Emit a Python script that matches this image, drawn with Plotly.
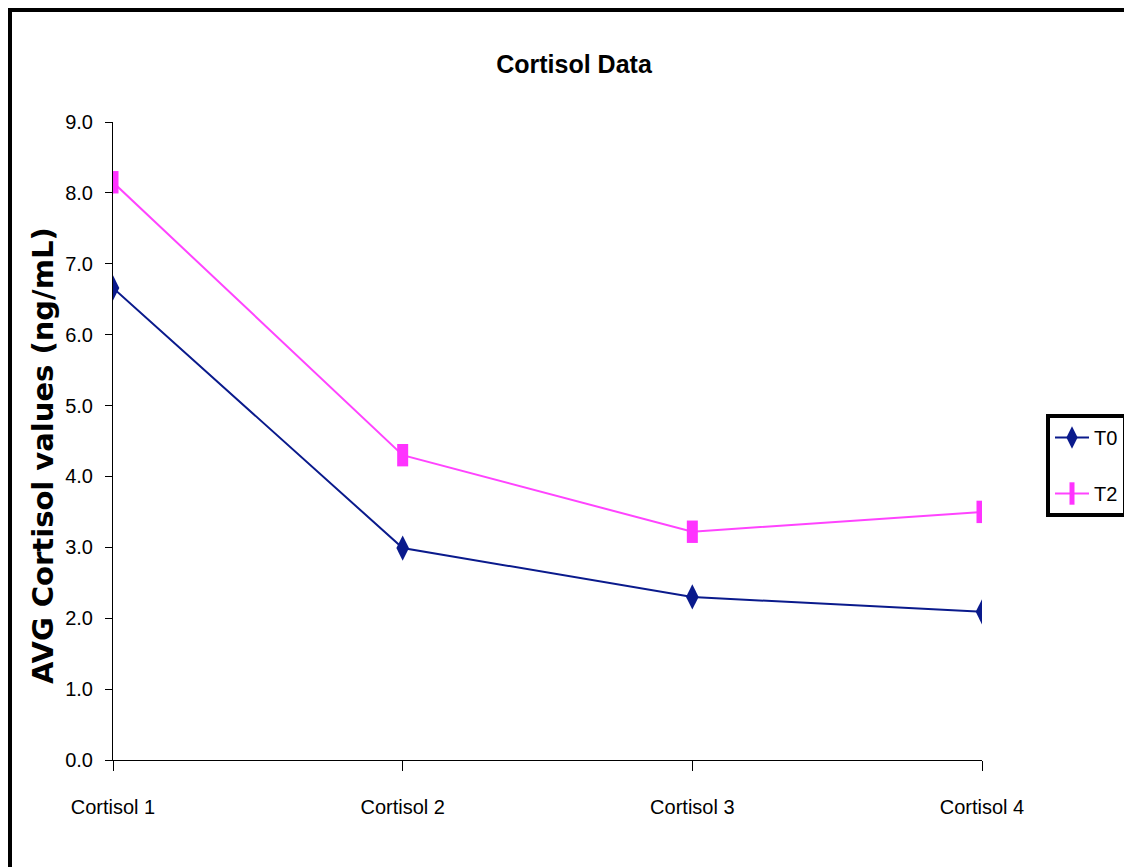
import plotly.graph_objects as go

categories = ["Cortisol 1", "Cortisol 2", "Cortisol 3", "Cortisol 4"]
t0_values = [6.66, 2.99, 2.30, 2.09]
t2_values = [8.15, 4.30, 3.22, 3.50]
y_ticks = [0, 1, 2, 3, 4, 5, 6, 7, 8, 9]
y_tick_labels = ["%.1f" % v for v in y_ticks]

OFF = 8  # page body margin
W, H = 1132 - OFF, 867 - OFF
L, R, T, B = 113 - OFF, 982 - OFF, 122 - OFF, 760 - OFF
FONT = "Liberation Sans, Arial, sans-serif"

def px_x(px):  # px in reference (screen) coordinates
    return (px - OFF - L) / (R - L)

def px_y(py):
    return (B - (py - OFF)) / (B - T)

fig = go.Figure()
fig.add_trace(go.Scatter(
    x=categories, y=t0_values, name="T0", mode="lines+markers",
    legendgroup="a",
    line=dict(color="#0A1A8C", width=2),
    marker=dict(symbol="diamond-tall", size=18, color="#0A1A8C"),
))
fig.add_trace(go.Scatter(
    x=categories, y=t2_values, name="T2", mode="lines+markers",
    legendgroup="b",
    line=dict(color="#FF44FF", width=2),
    marker=dict(symbol="line-ns", size=16, color="#FF33FF",
                line=dict(width=11, color="#FF33FF")),
))

fig.update_layout(
    width=W, height=H,
    margin=dict(l=L, r=W - R, t=T, b=H - B, pad=0, autoexpand=False),
    paper_bgcolor="white", plot_bgcolor="white",
    font=dict(family=FONT, size=20, color="black"),
    title=dict(text="<b>Cortisol Data</b>", x=(574 - OFF) / W, xref="container", xanchor="center",
               y=1 - (64 - OFF) / H, yref="container", yanchor="middle",
               font=dict(family=FONT, size=25, color="black")),
    showlegend=True,
    legend=dict(x=px_x(1046), y=px_y(414), xanchor="left", yanchor="top",
                bordercolor="black", borderwidth=4, bgcolor="white",
                itemwidth=34,
                font=dict(family=FONT, size=20, color="black"),
                tracegroupgap=27, traceorder="grouped"),
)

fig.update_xaxes(
    type="category", range=[0, 3], showgrid=False, zeroline=False,
    showline=True, linecolor="black", linewidth=1,
    ticks="outside", ticklen=10, tickcolor="black", tickwidth=1,
    tickfont=dict(family=FONT, size=20, color="black"),
    ticklabelstandoff=19,
)
fig.update_yaxes(
    range=[0, 9], tickvals=y_ticks, ticktext=y_tick_labels,
    showgrid=False, zeroline=False,
    showline=True, linecolor="black", linewidth=1,
    ticks="outside", ticklen=7, tickcolor="black", tickwidth=1,
    tickfont=dict(family=FONT, size=20, color="black"),
    ticklabelstandoff=8,
)

fig.add_annotation(
    text="<b>AVG Cortisol values (ng/mL)</b>", textangle=-90,
    xref="paper", yref="paper", x=px_x(43), y=px_y(456),
    xanchor="center", yanchor="middle", showarrow=False,
    font=dict(family="DejaVu Sans, Arial, sans-serif", size=29, color="black"),
)

# outer chart-area border (left and top edges visible)
fig.add_shape(type="rect", xref="paper", yref="paper",
              x0=px_x(8), x1=px_x(12), y0=px_y(867 + 10), y1=px_y(7),
              fillcolor="black", line=dict(width=0), layer="above")
fig.add_shape(type="rect", xref="paper", yref="paper",
              x0=px_x(8), x1=px_x(1132 + 10), y0=px_y(12), y1=px_y(7),
              fillcolor="black", line=dict(width=0), layer="above")

fig.write_html("out.html")
